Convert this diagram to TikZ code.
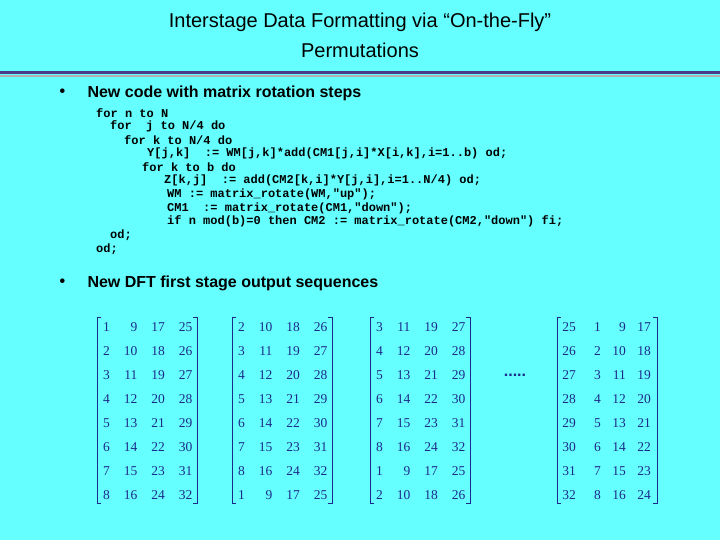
\documentclass[tikz,border=0pt]{standalone}
\usepackage{fontspec}
\setmainfont{Liberation Sans}
\newfontfamily\codefont{Liberation Mono}
\newfontfamily\numfont{Liberation Serif}
\definecolor{bg}{HTML}{66FFFF}
\definecolor{numc}{HTML}{1C2A8C}
\definecolor{sep}{HTML}{4B3C8A}
\tikzset{
 ttl/.style={font=\fontsize{20}{22}\selectfont, anchor=center},
 bul/.style={font=\fontsize{16}{18}\selectfont\bfseries, anchor=west},
 code/.style={font=\codefont\bfseries\fontsize{12}{13}\selectfont, anchor=west, inner sep=0},
 num/.style={font=\numfont\fontsize{13.5}{15}\selectfont, text=numc, anchor=east, inner sep=0},
 brk/.style={draw=numc, line width=0.8pt}
}
\begin{document}
\begin{tikzpicture}[x=1pt,y=-1pt]
\fill[bg] (0,0) rectangle (720,540);
\useasboundingbox (0,0) rectangle (720,540);
\node[ttl] (t1) at (360,22) {Interstage Data Formatting via “On-the-Fly”};
\node[ttl] (t2) at (360,50) {Permutations};
\draw[sep, line width=3pt] (0,73) -- (720,73);
\draw[gray!60, line width=1.5pt] (0,76) -- (720,76);
\node[bul] (b1) at (56,93) {•};
\node[bul] (l1) at (84,93) {New code with matrix rotation steps};
\node[bul] (b2) at (56,283) {•};
\node[bul] (l2) at (84,283) {New DFT first stage output sequences};
\node[code] (c1) at (96,113) {for n to N};
\node[code] (c2) at (110,126) {for\ \ j to N/4 do};
\node[code] (c3) at (124,140) {for k to N/4 do};
\node[code] (c4) at (147,153) {Y[j,k]\ \ := WM[j,k]*add(CM1[j,i]*X[i,k],i=1..b) od;};
\node[code] (c5) at (142,167) {for k to b do};
\node[code] (c6) at (164,180) {Z[k,j]\ \ := add(CM2[k,i]*Y[j,i],i=1..N/4) od;};
\node[code] (c7) at (167,194) {WM := matrix\_rotate(WM,"up");};
\node[code] (c8) at (167,208) {CM1\ \ := matrix\_rotate(CM1,"down");};
\node[code] (c9) at (167,221) {if n mod(b)=0 then CM2 := matrix\_rotate(CM2,"down") fi;};
\node[code] (c10) at (110,235) {od;};
\node[code] (c11) at (96,249) {od;};
% matrices
\foreach \L/\o/\s/\vals [count=\m] in {
 97/13/27.5/{1,9,17,25,2,10,18,26,3,11,19,27,4,12,20,28,5,13,21,29,6,14,22,30,7,15,23,31,8,16,24,32},
 232/13/27.5/{2,10,18,26,3,11,19,27,4,12,20,28,5,13,21,29,6,14,22,30,7,15,23,31,8,16,24,32,1,9,17,25},
 370/13/27.5/{3,11,19,27,4,12,20,28,5,13,21,29,6,14,22,30,7,15,23,31,8,16,24,32,1,9,17,25,2,10,18,26},
 557/19/25/{25,1,9,17,26,2,10,18,27,3,11,19,28,4,12,20,29,5,13,21,30,6,14,22,31,7,15,23,32,8,16,24}}{
  \draw[brk] (\L+4,317) -- (\L,317) -- (\L,503) -- (\L+4,503);
  \draw[brk] (\L+96,317) -- (\L+100,317) -- (\L+100,503) -- (\L+96,503);
  \foreach \v [count=\k from 0] in \vals {
    \pgfmathtruncatemacro\r{int(\k/4)}
    \pgfmathtruncatemacro\c{mod(\k,4)}
    \pgfmathsetmacro\xx{\L+\o+\s*\c}
    \node[num] (m\m-\k) at (\xx,327+24*\r) {\v};
  }
}
\node[font=\bfseries\fontsize{16}{16}\selectfont, text=numc] (dots) at (515,375) {.....};
\end{tikzpicture}
\end{document}
